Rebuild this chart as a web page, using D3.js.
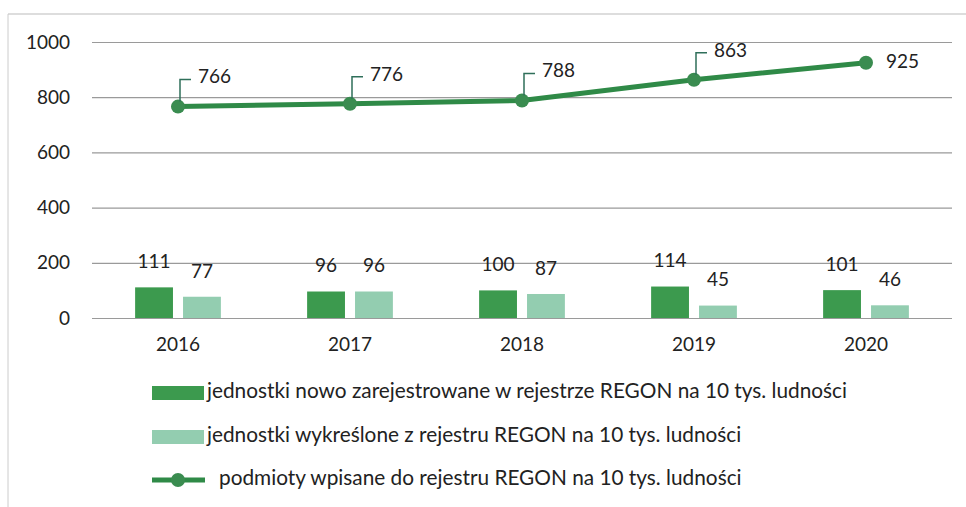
<!DOCTYPE html>
<html>
<head>
<meta charset="utf-8">
<script src="https://cdn.jsdelivr.net/npm/d3@7"></script>
<style>
  body { margin: 0; background: #fff; }
  text { font-family: Lato, "Liberation Sans", sans-serif; fill: #222; }
</style>
</head>
<body>
<svg id="chart" width="966" height="507"></svg>
<script>
// data
var years = ['2016', '2017', '2018', '2019', '2020'];
var newUnits = [111, 96, 100, 114, 101];
var removedUnits = [77, 96, 87, 45, 46];
var registered = [766, 776, 788, 863, 925];
var yTicks = [0, 200, 400, 600, 800, 1000];
var legendLabels = [
  'jednostki nowo zarejestrowane w rejestrze REGON na 10 tys. ludności',
  'jednostki wykreślone z rejestru REGON na 10 tys. ludności',
  'podmioty wpisane do rejestru REGON na 10 tys. ludności'
];

var colNew = '#3c9a4e', colDel = '#93cdb0', colLine = '#2f8a47';

var svg = d3.select('#chart');

// scan frame
svg.append('line').attr('x1', 8).attr('x2', 966).attr('y1', 14).attr('y2', 14)
   .style('stroke', '#bbb').style('stroke-width', 1);
svg.append('line').attr('x1', 8).attr('x2', 8).attr('y1', 14).attr('y2', 507)
   .style('stroke', '#ccc').style('stroke-width', 1);

var x = d3.scaleBand().domain(years).range([92, 952]);
var x1 = d3.scaleBand().domain(['new', 'del']).range([0, x.bandwidth()])
           .paddingInner(0.21).paddingOuter(0.9);
var y = d3.scaleLinear().domain([0, 1000]).range([318, 42]);

// grid + y labels
var yAxis = d3.axisLeft(y).tickValues(yTicks).tickFormat(d3.format('d'))
              .tickSize(-(952 - 92)).tickPadding(22);
svg.append('g').attr('id', 'yaxis').attr('transform', 'translate(92,0)')
   .call(yAxis)
   .call(function(g){
     g.select('.domain').remove();
     g.selectAll('.tick line').style('stroke', '#9a9a9a').style('stroke-width', 1.2);
     g.selectAll('.tick text').style('font-size', '19px').style('fill', '#222')
      .style('font-family', 'Lato, sans-serif');
   });

// x labels
var xAxis = d3.axisBottom(x).tickSize(0).tickPadding(20);
svg.append('g').attr('transform', 'translate(0,318)')
   .call(xAxis)
   .call(function(g){
     g.select('.domain').remove();
     g.selectAll('.tick text').style('font-size', '19px').style('fill', '#222')
      .style('font-family', 'Lato, sans-serif');
   });

var bars = years.map(function(yr, i){
  return [{yr: yr, key: 'new', v: newUnits[i], c: colNew},
          {yr: yr, key: 'del', v: removedUnits[i], c: colDel}];
}).flat();

var barG = svg.append('g').attr('id', 'bars');
barG.selectAll('rect').data(bars).enter().append('rect')
    .attr('x', function(d){ return x(d.yr) + x1(d.key); })
    .attr('width', x1.bandwidth())
    .attr('y', function(d){ return y(d.v); })
    .attr('height', function(d){ return y(0) - y(d.v); })
    .style('fill', function(d){ return d.c; });

barG.selectAll('text').data(bars).enter().append('text')
    .attr('x', function(d){ return x(d.yr) + x1(d.key) + x1.bandwidth() / 2; })
    .attr('y', function(d){ return y(d.v) - 24; })
    .style('text-anchor', 'middle').style('dominant-baseline', 'middle')
    .style('font-size', '19px')
    .text(function(d){ return d.v; });

// line series
var pts = years.map(function(yr, i){ return {yr: yr, v: registered[i], last: i === years.length - 1}; });
var cx = function(d){ return x(d.yr) + x.bandwidth() / 2; };

svg.append('path').datum(pts)
   .attr('d', d3.line().x(cx).y(function(d){ return y(d.v); }))
   .style('fill', 'none').style('stroke', colLine).style('stroke-width', 5);

svg.append('g').selectAll('circle').data(pts).enter().append('circle')
   .attr('cx', cx).attr('cy', function(d){ return y(d.v); }).attr('r', 7)
   .style('fill', '#3a8c50');

var lab = svg.append('g').attr('id', 'lineLabels');
lab.selectAll('path').data(pts.filter(function(d){ return !d.last; })).enter().append('path')
   .attr('d', function(d){
     var px = cx(d) + 2, py = y(d.v);
     return 'M' + px + ',' + (py - 5) + 'V' + (py - 27) + 'H' + (px + 11);
   })
   .style('fill', 'none').style('stroke', '#2f6f5a').style('stroke-width', 1.5);
lab.selectAll('text').data(pts).enter().append('text')
   .attr('x', function(d){ return cx(d) + 20; })
   .attr('y', function(d){ return y(d.v) - (d.last ? 0 : 28); })
   .style('dominant-baseline', 'middle').style('font-size', '19px')
   .text(function(d){ return d.v; });

// legend
var leg = svg.append('g').attr('id', 'legend');
var rowsY = [393, 437, 480];
leg.append('rect').attr('x', 152).attr('y', rowsY[0] - 7).attr('width', 52).attr('height', 14).style('fill', colNew);
leg.append('rect').attr('x', 152).attr('y', rowsY[1] - 7).attr('width', 52).attr('height', 14).style('fill', colDel);
leg.append('line').attr('x1', 152).attr('x2', 205).attr('y1', rowsY[2]).attr('y2', rowsY[2])
   .style('stroke', colLine).style('stroke-width', 5);
leg.append('circle').attr('cx', 178).attr('cy', rowsY[2]).attr('r', 7).style('fill', '#3a8c50');
leg.selectAll('text').data(legendLabels).enter().append('text')
   .attr('x', function(d, i){ return i === 2 ? 219 : 207; })
   .attr('y', function(d, i){ return rowsY[i]; })
   .style('dominant-baseline', 'middle').style('font-size', '20.8px')
   .text(function(d){ return d; });
</script>
</body>
</html>
